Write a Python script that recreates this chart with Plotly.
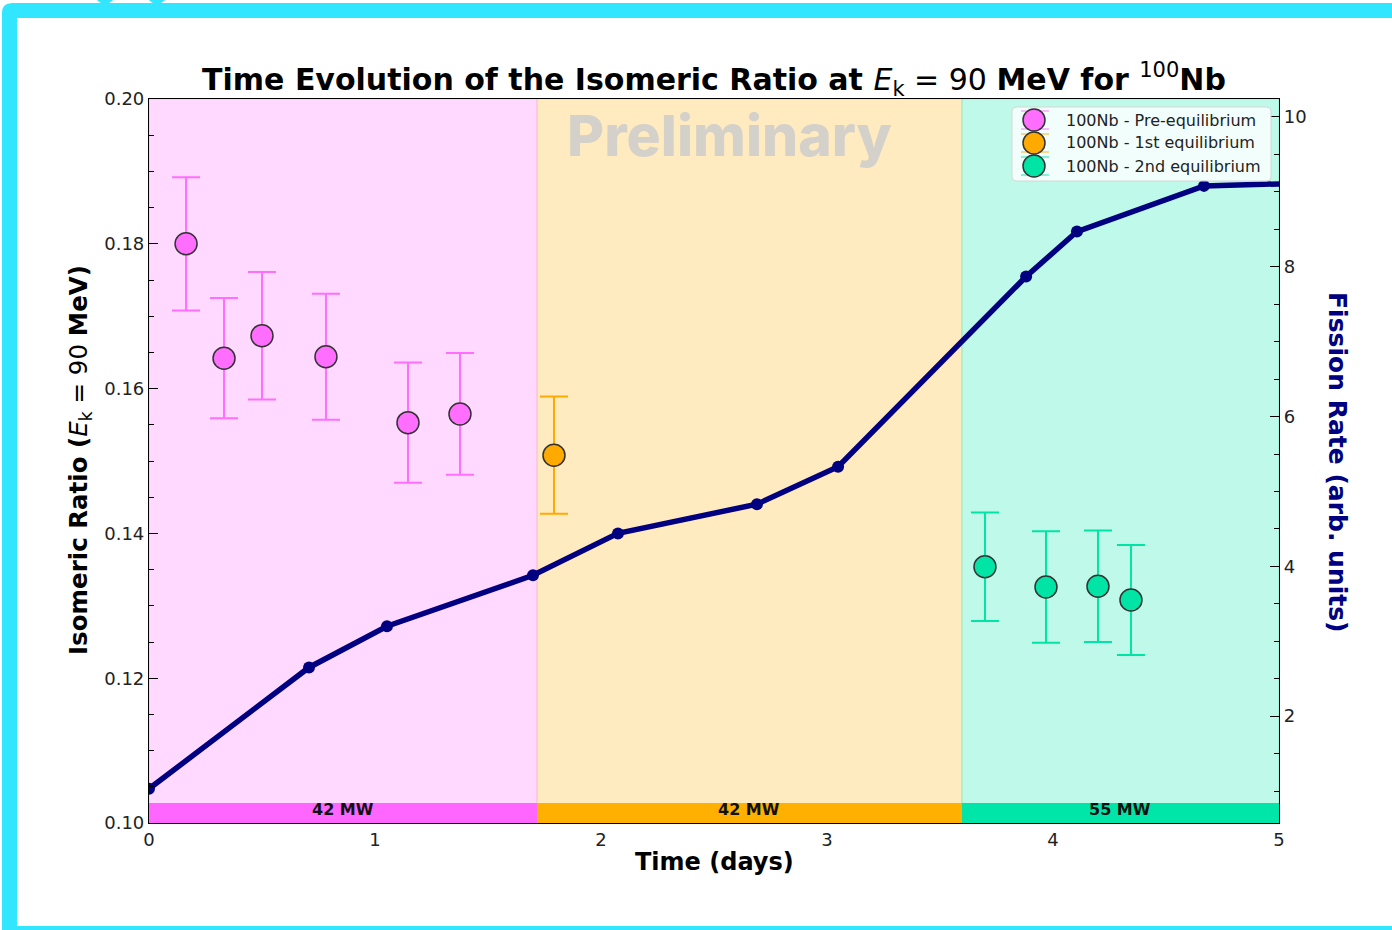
import plotly.graph_objects as go

# ---- data -------------------------------------------------------------
# isomeric ratio measurements (days, ratio, 1-sigma)
pre_t = [0.164, 0.332, 0.500, 0.783, 1.146, 1.376]
pre_r = [0.1800, 0.1642, 0.1673, 0.1644, 0.1553, 0.1565]
pre_e = [0.0092, 0.0083, 0.0088, 0.0087, 0.0083, 0.0084]

eq1_t = [1.792]
eq1_r = [0.1508]
eq1_e = [0.0081]

eq2_t = [3.699, 3.969, 4.199, 4.345]
eq2_r = [0.1354, 0.1326, 0.1327, 0.1308]
eq2_e = [0.0075, 0.0077, 0.0077, 0.0076]

# fission rate history (arb. units)
fr_t = [0.0, 0.708, 1.053, 1.699, 2.075, 2.690, 3.049, 3.881, 4.106, 4.668, 5.30]
fr_v = [1.03, 2.65, 3.20, 3.88, 4.44, 4.83, 5.33, 7.87, 8.47, 9.08, 9.13]

# irradiation phases: start, end, reactor power label
phase_start = [0.0, 1.717, 3.597]
phase_end = [1.717, 3.597, 5.0]
phase_power = ["42 MW", "42 MW", "55 MW"]

legend_names = ["100Nb - Pre-equilibrium", "100Nb - 1st equilibrium", "100Nb - 2nd equilibrium"]

# ---- styling ----------------------------------------------------------
W, H = 1392, 930
L, R, T, B = 149, 1279, 99, 823   # plot area in pixels

marker_cols = ["#FF6EFF", "#FFAA00", "#00E5A5"]
cap_cols = ["rgba(255,110,255,0.6)", "rgba(255,170,0,0.6)", "rgba(0,229,165,0.6)"]
span_cols = ["rgba(255,102,255,0.25)", "rgba(255,176,0,0.25)", "rgba(0,230,168,0.25)"]
bar_cols = ["#FF66FF", "#FFB000", "#00E6A8"]
navy = "#000080"
cyan = "#33E6FF"
FONT = "DejaVu Sans"


def px(x):
    return (x - L) / (R - L)


def py(y):
    return (B - y) / (B - T)


fig = go.Figure()

for t, r, e, col, name in zip([pre_t, eq1_t, eq2_t], [pre_r, eq1_r, eq2_r],
                              [pre_e, eq1_e, eq2_e], marker_cols, legend_names):
    fig.add_trace(go.Scatter(
        x=t, y=r, mode="markers", name=name, showlegend=False,
        marker=dict(size=22, color=col, line=dict(color="#333333", width=1.5)),
        error_y=dict(type="data", array=e, visible=True, color=col,
                     thickness=2, width=14),
    ))

fig.add_trace(go.Scatter(
    x=fr_t, y=fr_v, yaxis="y2", mode="lines+markers", showlegend=False,
    line=dict(color=navy, width=5.5), marker=dict(size=12, color=navy),
))

shapes = []
annotations = []
for s, e, sc, bc, p in zip(phase_start, phase_end, span_cols, bar_cols, phase_power):
    shapes.append(dict(type="rect", xref="x", yref="paper", x0=s, x1=e, y0=0, y1=1,
                       fillcolor=sc, line=dict(width=1, color=sc), layer="below"))
    shapes.append(dict(type="rect", xref="x", yref="y", x0=s, x1=e, y0=0.10, y1=0.10276,
                       fillcolor=bc, line=dict(width=0), layer="above"))
    annotations.append(dict(x=(s + e) / 2, y=0.1019, xref="x", yref="y", text=f"<b>{p}</b>",
                            xanchor="center", yanchor="middle", showarrow=False,
                            font=dict(family=FONT, size=16, color="#111111")))

# legend box (upper right, inside the axes)
lx0, lx1, ly0, ly1, rad = 1012, 1271, 107, 181, 4
shapes.append(dict(
    type="path", xref="paper", yref="paper", layer="above",
    path=(f"M {px(lx0 + rad)},{py(ly0)} L {px(lx1 - rad)},{py(ly0)} "
          f"Q {px(lx1)},{py(ly0)} {px(lx1)},{py(ly0 + rad)} L {px(lx1)},{py(ly1 - rad)} "
          f"Q {px(lx1)},{py(ly1)} {px(lx1 - rad)},{py(ly1)} L {px(lx0 + rad)},{py(ly1)} "
          f"Q {px(lx0)},{py(ly1)} {px(lx0)},{py(ly1 - rad)} L {px(lx0)},{py(ly0 + rad)} "
          f"Q {px(lx0)},{py(ly0)} {px(lx0 + rad)},{py(ly0)} Z"),
    fillcolor="rgba(255,255,255,0.8)", line=dict(color="#d6d6d6", width=1)))
for i, (name, col, ccol) in enumerate(zip(legend_names, marker_cols, cap_cols)):
    cy = 120 + 23 * i
    for dy in (-9, 9):
        shapes.append(dict(type="line", xref="paper", yref="paper", layer="above",
                           x0=px(1021), x1=px(1049), y0=py(cy + dy), y1=py(cy + dy),
                           line=dict(color=ccol, width=1.5)))
    shapes.append(dict(type="circle", xref="paper", yref="paper", layer="above",
                       x0=px(1034 - 11), x1=px(1034 + 11), y0=py(cy + 11), y1=py(cy - 11),
                       fillcolor=col, line=dict(color="#333333", width=1.5)))
    annotations.append(dict(x=px(1064), y=py(cy), xref="paper", yref="paper", showarrow=False,
                            xanchor="left", yanchor="middle", text=name,
                            font=dict(family=FONT, size=16, color="#222222")))

# decorative frame
shapes += [
    dict(type="path", xref="paper", yref="paper", layer="above",
         path=(f"M {px(2)},{py(930)} L {px(2)},{py(13)} Q {px(2)},{py(3)} {px(12)},{py(3)} "
               f"L {px(1392)},{py(3)} L {px(1392)},{py(18)} L {px(17)},{py(18)} "
               f"L {px(17)},{py(930)} Z"),
         fillcolor=cyan, line=dict(width=0)),
    dict(type="rect", xref="paper", yref="paper", layer="above",
         x0=px(17), x1=px(1392), y0=py(930), y1=py(926), fillcolor=cyan, line=dict(width=0)),
    dict(type="circle", xref="paper", yref="paper", layer="above",
         x0=px(95), x1=px(115), y0=py(4), y1=py(-16), fillcolor=cyan, line=dict(width=0)),
    dict(type="circle", xref="paper", yref="paper", layer="above",
         x0=px(147), x1=px(167), y0=py(4), y1=py(-16), fillcolor=cyan, line=dict(width=0)),
]

annotations += [
    dict(x=px(729), y=py(135), xref="paper", yref="paper", showarrow=False,
         xanchor="center", yanchor="middle", text="Preliminary",
         font=dict(family="Inter", size=57, color="rgba(205,205,205,0.85)", weight=800)),
    dict(x=px(80), y=py(460), xref="paper", yref="paper", showarrow=False, textangle=-90,
         xanchor="center", yanchor="middle",
         text="<b>Isomeric Ratio (</b><i>E</i><sub>k</sub> = 90 <b>MeV)</b>",
         font=dict(family=FONT, size=24.5, color="#000000")),
    dict(x=px(1338), y=py(462), xref="paper", yref="paper", showarrow=False, textangle=90,
         xanchor="center", yanchor="middle",
         text="<b>Fission Rate (arb. units)</b>",
         font=dict(family=FONT, size=25, color=navy)),
    dict(x=px(714), y=py(862), xref="paper", yref="paper", showarrow=False,
         xanchor="center", yanchor="middle",
         text="<b>Time (days)</b>",
         font=dict(family=FONT, size=24, color="#000000")),
]

tickfont = dict(family=FONT, size=18, color="#222222")

fig.update_layout(
    width=W, height=H,
    margin=dict(l=L, r=W - R, t=T, b=H - B),
    paper_bgcolor="white", plot_bgcolor="white",
    showlegend=False,
    title=dict(
        text=("<b>Time Evolution of the Isomeric Ratio at </b><i>E</i><sub>k</sub> = 90 "
              "<b>MeV for </b><sup>100</sup><b>Nb</b>"),
        x=0.5, xref="paper", xanchor="center", y=1 - 79 / H, yref="container", yanchor="middle",
        font=dict(family=FONT, size=30, color="#000000"),
    ),
    xaxis=dict(range=[0, 5], dtick=1, ticks="inside", ticklen=8, tickcolor="#000",
               showline=True, linecolor="#000", linewidth=1.2, mirror=True,
               showgrid=False, zeroline=False, tickfont=tickfont),
    yaxis=dict(range=[0.10, 0.20], dtick=0.02, tickformat=".2f", ticks="inside", ticklen=9,
               tickcolor="#000", showline=True, linecolor="#000", linewidth=1.2,
               showgrid=False, zeroline=False, tickfont=tickfont,
               minor=dict(dtick=0.005, ticks="inside", ticklen=5, tickcolor="#000", showgrid=False)),
    yaxis2=dict(range=[0.573, 10.24], dtick=2, overlaying="y", side="right", ticks="inside",
                ticklen=9, tickcolor="#000", showline=True, linecolor="#000", linewidth=1.2,
                showgrid=False, zeroline=False, tickfont=tickfont,
                minor=dict(dtick=0.5, ticks="inside", ticklen=5, tickcolor="#000", showgrid=False)),
    shapes=shapes,
    annotations=annotations,
)

fig.write_html("out.html")
